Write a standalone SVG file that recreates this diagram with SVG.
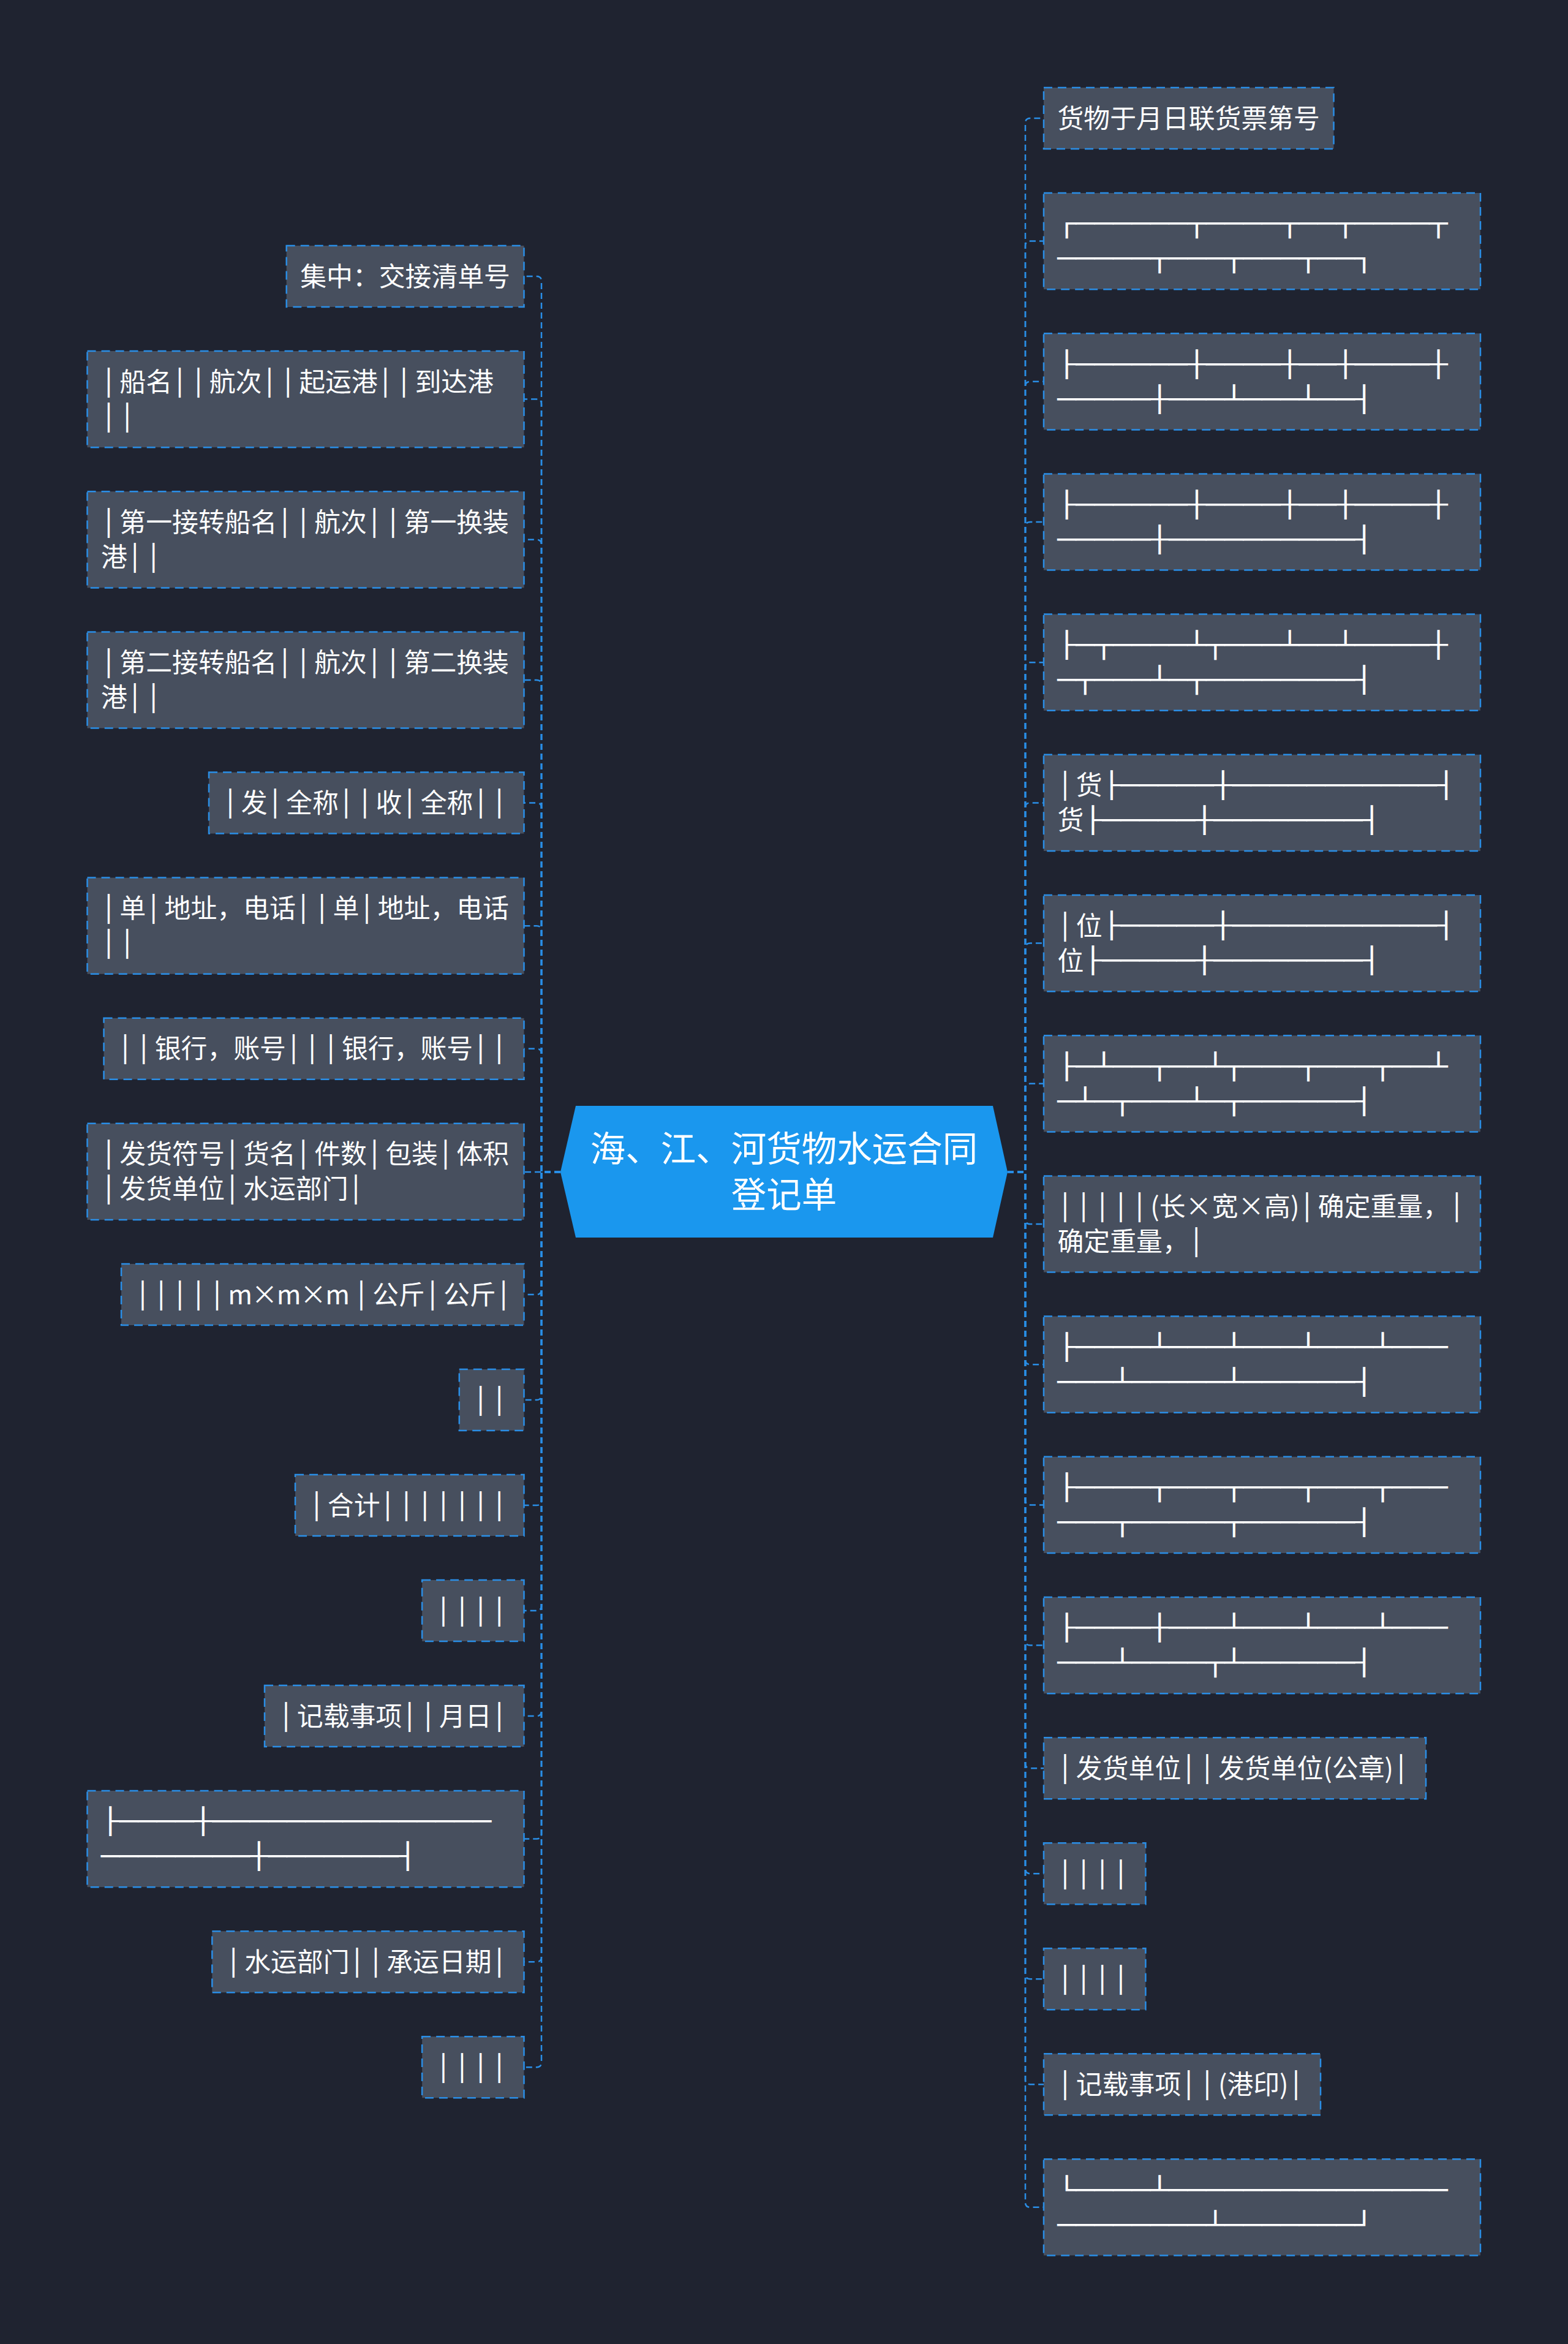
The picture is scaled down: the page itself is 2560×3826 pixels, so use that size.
<svg xmlns="http://www.w3.org/2000/svg" width="2560" height="3826" viewBox="0 0 2560 3826">
<style>
.n{fill:#474f5e;stroke:#2a8ee6;stroke-width:2.5;stroke-dasharray:14 9}
.t{font-family:"Noto Sans CJK SC","Noto Sans",sans-serif;font-size:42.85px;fill:#ffffff}
.b{font-family:"DejaVu Sans Mono",monospace;font-size:41.2px;letter-spacing:5.55px}
.r{font-family:"DejaVu Sans Mono",monospace;font-size:41.2px;fill:#ffffff}
.c{fill:none;stroke:#2a8ee6;stroke-width:2.5;stroke-dasharray:10 6}
.title{font-family:"Noto Sans CJK SC","Noto Sans",sans-serif;font-size:57.5px;fill:#ffffff;text-anchor:middle}
</style>
<rect width="2560" height="3826" fill="#1f2330"/>
<g id="connectors">
<path class="c" d="M1645 1913H1674V201Q1674 193 1682 193H1704"/>
<path class="c" d="M1645 1913H1674V401.6Q1674 393.6 1682 393.6H1704"/>
<path class="c" d="M1645 1913H1674V630.8Q1674 622.8 1682 622.8H1704"/>
<path class="c" d="M1645 1913H1674V860Q1674 852 1682 852H1704"/>
<path class="c" d="M1645 1913H1674V1089.2Q1674 1081.2 1682 1081.2H1704"/>
<path class="c" d="M1645 1913H1674V1318.4Q1674 1310.4 1682 1310.4H1704"/>
<path class="c" d="M1645 1913H1674V1547.6Q1674 1539.6 1682 1539.6H1704"/>
<path class="c" d="M1645 1913H1674V1776.8Q1674 1768.8 1682 1768.8H1704"/>
<path class="c" d="M1645 1913H1674V1990Q1674 1998 1682 1998H1704"/>
<path class="c" d="M1645 1913H1674V2219.2Q1674 2227.2 1682 2227.2H1704"/>
<path class="c" d="M1645 1913H1674V2448.4Q1674 2456.4 1682 2456.4H1704"/>
<path class="c" d="M1645 1913H1674V2677.6Q1674 2685.6 1682 2685.6H1704"/>
<path class="c" d="M1645 1913H1674V2878.2Q1674 2886.2 1682 2886.2H1704"/>
<path class="c" d="M1645 1913H1674V3050.2Q1674 3058.2 1682 3058.2H1704"/>
<path class="c" d="M1645 1913H1674V3222.2Q1674 3230.2 1682 3230.2H1704"/>
<path class="c" d="M1645 1913H1674V3394.2Q1674 3402.2 1682 3402.2H1704"/>
<path class="c" d="M1645 1913H1674V3594.8Q1674 3602.8 1682 3602.8H1704"/>
<path class="c" d="M915 1913H884V459Q884 451 876 451H855.5"/>
<path class="c" d="M915 1913H884V659.6Q884 651.6 876 651.6H855.5"/>
<path class="c" d="M915 1913H884V888.8Q884 880.8 876 880.8H855.5"/>
<path class="c" d="M915 1913H884V1118Q884 1110 876 1110H855.5"/>
<path class="c" d="M915 1913H884V1318.6Q884 1310.6 876 1310.6H855.5"/>
<path class="c" d="M915 1913H884V1519.2Q884 1511.2 876 1511.2H855.5"/>
<path class="c" d="M915 1913H884V1719.8Q884 1711.8 876 1711.8H855.5"/>
<path class="c" d="M915 1913H855.5"/>
<path class="c" d="M915 1913H884V2105Q884 2113 876 2113H855.5"/>
<path class="c" d="M915 1913H884V2277Q884 2285 876 2285H855.5"/>
<path class="c" d="M915 1913H884V2449Q884 2457 876 2457H855.5"/>
<path class="c" d="M915 1913H884V2621Q884 2629 876 2629H855.5"/>
<path class="c" d="M915 1913H884V2793Q884 2801 876 2801H855.5"/>
<path class="c" d="M915 1913H884V2993.6Q884 3001.6 876 3001.6H855.5"/>
<path class="c" d="M915 1913H884V3194.2Q884 3202.2 876 3202.2H855.5"/>
<path class="c" d="M915 1913H884V3366.2Q884 3374.2 876 3374.2H855.5"/>
</g>
<g id="center">
<polygon points="940,1805 1621,1805 1645,1913 1621,2020 940,2020 915,1913" fill="#1a97ee"/>
<text class="title"><tspan x="1280" y="1896">海、江、河货物水运合同</tspan><tspan x="1280" y="1971">登记单</tspan></text>
</g>
<g id="L1"><rect class="n" x="467.7" y="401" width="387.8" height="100"/>
<text class="t" x="490.2" y="466.5">集中：交接清单号</text></g>
<g id="L2"><rect class="n" x="142.5" y="573" width="713" height="157.2"/>
<text class="t" x="165" y="638.6"><tspan class="b">│</tspan>船名<tspan class="b">││</tspan>航次<tspan class="b">││</tspan>起运港<tspan class="b">││</tspan>到达港</text>
<text class="t" x="165" y="695.6"><tspan class="b">││</tspan></text></g>
<g id="L3"><rect class="n" x="142.5" y="802.2" width="713" height="157.2"/>
<text class="t" x="165" y="867.8"><tspan class="b">│</tspan>第一接转船名<tspan class="b">││</tspan>航次<tspan class="b">││</tspan>第一换装</text>
<text class="t" x="165" y="924.8">港<tspan class="b">││</tspan></text></g>
<g id="L4"><rect class="n" x="142.5" y="1031.4" width="713" height="157.2"/>
<text class="t" x="165" y="1097"><tspan class="b">│</tspan>第二接转船名<tspan class="b">││</tspan>航次<tspan class="b">││</tspan>第二换装</text>
<text class="t" x="165" y="1154">港<tspan class="b">││</tspan></text></g>
<g id="L5"><rect class="n" x="341" y="1260.6" width="514.5" height="100"/>
<text class="t" x="363.5" y="1326.1"><tspan class="b">│</tspan>发<tspan class="b">│</tspan>全称<tspan class="b">││</tspan>收<tspan class="b">│</tspan>全称<tspan class="b">││</tspan></text></g>
<g id="L6"><rect class="n" x="142.5" y="1432.6" width="713" height="157.2"/>
<text class="t" x="165" y="1498.2"><tspan class="b">│</tspan>单<tspan class="b">│</tspan>地址，电话<tspan class="b">││</tspan>单<tspan class="b">│</tspan>地址，电话</text>
<text class="t" x="165" y="1555.2"><tspan class="b">││</tspan></text></g>
<g id="L7"><rect class="n" x="169.5" y="1661.8" width="686" height="100"/>
<text class="t" x="192" y="1727.3"><tspan class="b">││</tspan>银行，账号<tspan class="b">│││</tspan>银行，账号<tspan class="b">││</tspan></text></g>
<g id="L8"><rect class="n" x="142.5" y="1833.8" width="713" height="157.2"/>
<text class="t" x="165" y="1899.4"><tspan class="b">│</tspan>发货符号<tspan class="b">│</tspan>货名<tspan class="b">│</tspan>件数<tspan class="b">│</tspan>包装<tspan class="b">│</tspan>体积</text>
<text class="t" x="165" y="1956.4"><tspan class="b">│</tspan>发货单位<tspan class="b">│</tspan>水运部门<tspan class="b">│</tspan></text></g>
<g id="L9"><rect class="n" x="198" y="2063" width="657.5" height="100"/>
<text class="t" x="220.5" y="2128.5"><tspan class="b">│││││</tspan><tspan letter-spacing="-1.5">m×m×m </tspan><tspan class="b">│</tspan>公斤<tspan class="b">│</tspan>公斤<tspan class="b">│</tspan></text></g>
<g id="L10"><rect class="n" x="749.8" y="2235" width="105.7" height="100"/>
<text class="t" x="772.3" y="2300.5"><tspan class="b">││</tspan></text></g>
<g id="L11"><rect class="n" x="482" y="2407" width="373.5" height="100"/>
<text class="t" x="504.5" y="2472.5"><tspan class="b">│</tspan>合计<tspan class="b">│││││││</tspan></text></g>
<g id="L12"><rect class="n" x="689.1" y="2579" width="166.4" height="100"/>
<text class="t" x="711.6" y="2644.5"><tspan class="b">││││</tspan></text></g>
<g id="L13"><rect class="n" x="432" y="2751" width="423.5" height="100"/>
<text class="t" x="454.5" y="2816.5"><tspan class="b">│</tspan>记载事项<tspan class="b">││</tspan>月日<tspan class="b">│</tspan></text></g>
<g id="L14"><rect class="n" x="142.5" y="2923" width="713" height="157.2"/>
<text class="r" x="165" y="2987.4" textLength="637.35" lengthAdjust="spacingAndGlyphs">├────┼───────────────</text>
<text class="r" x="165" y="3044.4" textLength="515.95" lengthAdjust="spacingAndGlyphs">────────┼───────┤</text></g>
<g id="L15"><rect class="n" x="346.3" y="3152.2" width="509.2" height="100"/>
<text class="t" x="368.8" y="3217.7"><tspan class="b">│</tspan>水运部门<tspan class="b">││</tspan>承运日期<tspan class="b">│</tspan></text></g>
<g id="L16"><rect class="n" x="689.1" y="3324.2" width="166.4" height="100"/>
<text class="t" x="711.6" y="3389.7"><tspan class="b">││││</tspan></text></g>
<g id="R1"><rect class="n" x="1704" y="143" width="473.5" height="100"/>
<text class="t" x="1726.5" y="208.5">货物于月日联货票第号</text></g>
<g id="R2"><rect class="n" x="1704" y="315" width="713" height="157.2"/>
<text class="r" x="1726.5" y="379.4" textLength="637.35" lengthAdjust="spacingAndGlyphs">┌──────┬────┬──┬────┬</text>
<text class="r" x="1726.5" y="436.4" textLength="515.95" lengthAdjust="spacingAndGlyphs">─────┬───┬───┬──┐</text></g>
<g id="R3"><rect class="n" x="1704" y="544.2" width="713" height="157.2"/>
<text class="r" x="1726.5" y="608.6" textLength="637.35" lengthAdjust="spacingAndGlyphs">├──────┼────┼──┼────┼</text>
<text class="r" x="1726.5" y="665.6" textLength="515.95" lengthAdjust="spacingAndGlyphs">─────┼───┴───┴──┤</text></g>
<g id="R4"><rect class="n" x="1704" y="773.4" width="713" height="157.2"/>
<text class="r" x="1726.5" y="837.8" textLength="637.35" lengthAdjust="spacingAndGlyphs">├──────┼────┼──┼────┼</text>
<text class="r" x="1726.5" y="894.8" textLength="515.95" lengthAdjust="spacingAndGlyphs">─────┼──────────┤</text></g>
<g id="R5"><rect class="n" x="1704" y="1002.6" width="713" height="157.2"/>
<text class="r" x="1726.5" y="1067" textLength="637.35" lengthAdjust="spacingAndGlyphs">├─┬────┴┬───┴──┴────┼</text>
<text class="r" x="1726.5" y="1124" textLength="515.95" lengthAdjust="spacingAndGlyphs">─┬───┴─┬────────┤</text></g>
<g id="R6"><rect class="n" x="1704" y="1231.8" width="713" height="157.2"/>
<text class="t" x="1726.5" y="1297.4"><tspan class="b">│</tspan>货</text>
<text class="r" x="1799.7" y="1296.2" textLength="576.65" lengthAdjust="spacingAndGlyphs">├─────┼───────────┤</text>
<text class="t" x="1726.5" y="1354.4">货</text>
<text class="r" x="1769.35" y="1353.2" textLength="485.6" lengthAdjust="spacingAndGlyphs">├─────┼────────┤</text></g>
<g id="R7"><rect class="n" x="1704" y="1461" width="713" height="157.2"/>
<text class="t" x="1726.5" y="1526.6"><tspan class="b">│</tspan>位</text>
<text class="r" x="1799.7" y="1525.4" textLength="576.65" lengthAdjust="spacingAndGlyphs">├─────┼───────────┤</text>
<text class="t" x="1726.5" y="1583.6">位</text>
<text class="r" x="1769.35" y="1582.4" textLength="485.6" lengthAdjust="spacingAndGlyphs">├─────┼────────┤</text></g>
<g id="R8"><rect class="n" x="1704" y="1690.2" width="713" height="157.2"/>
<text class="r" x="1726.5" y="1754.6" textLength="637.35" lengthAdjust="spacingAndGlyphs">├─┴──┬──┴┬───┬───┬──┴</text>
<text class="r" x="1726.5" y="1811.6" textLength="515.95" lengthAdjust="spacingAndGlyphs">─┴─┬───┴─┬──────┤</text></g>
<g id="R9"><rect class="n" x="1704" y="1919.4" width="713" height="157.2"/>
<text class="t" x="1726.5" y="1985"><tspan class="b">│││││</tspan>(长×宽×高)<tspan class="b">│</tspan>确定重量，<tspan class="b">│</tspan></text>
<text class="t" x="1726.5" y="2042">确定重量，<tspan class="b">│</tspan></text></g>
<g id="R10"><rect class="n" x="1704" y="2148.6" width="713" height="157.2"/>
<text class="r" x="1726.5" y="2213" textLength="637.35" lengthAdjust="spacingAndGlyphs">├────┴───┴───┴───┴───</text>
<text class="r" x="1726.5" y="2270" textLength="515.95" lengthAdjust="spacingAndGlyphs">───┴─────┴──────┤</text></g>
<g id="R11"><rect class="n" x="1704" y="2377.8" width="713" height="157.2"/>
<text class="r" x="1726.5" y="2442.2" textLength="637.35" lengthAdjust="spacingAndGlyphs">├────┬───┬───┬───┬───</text>
<text class="r" x="1726.5" y="2499.2" textLength="515.95" lengthAdjust="spacingAndGlyphs">───┬─────┬──────┤</text></g>
<g id="R12"><rect class="n" x="1704" y="2607" width="713" height="157.2"/>
<text class="r" x="1726.5" y="2671.4" textLength="637.35" lengthAdjust="spacingAndGlyphs">├────┼───┴───┴───┴───</text>
<text class="r" x="1726.5" y="2728.4" textLength="515.95" lengthAdjust="spacingAndGlyphs">───┴────┬┴──────┤</text></g>
<g id="R13"><rect class="n" x="1704" y="2836.2" width="624" height="100"/>
<text class="t" x="1726.5" y="2901.7"><tspan class="b">│</tspan>发货单位<tspan class="b">││</tspan>发货单位(公章)<tspan class="b">│</tspan></text></g>
<g id="R14"><rect class="n" x="1704" y="3008.2" width="166.4" height="100"/>
<text class="t" x="1726.5" y="3073.7"><tspan class="b">││││</tspan></text></g>
<g id="R15"><rect class="n" x="1704" y="3180.2" width="166.4" height="100"/>
<text class="t" x="1726.5" y="3245.7"><tspan class="b">││││</tspan></text></g>
<g id="R16"><rect class="n" x="1704" y="3352.2" width="452" height="100"/>
<text class="t" x="1726.5" y="3417.7"><tspan class="b">│</tspan>记载事项<tspan class="b">││</tspan>(港印)<tspan class="b">│</tspan></text></g>
<g id="R17"><rect class="n" x="1704" y="3524.2" width="713" height="157.2"/>
<text class="r" x="1726.5" y="3588.6" textLength="637.35" lengthAdjust="spacingAndGlyphs">└────┴───────────────</text>
<text class="r" x="1726.5" y="3645.6" textLength="515.95" lengthAdjust="spacingAndGlyphs">────────┴───────┘</text></g>
</svg>
